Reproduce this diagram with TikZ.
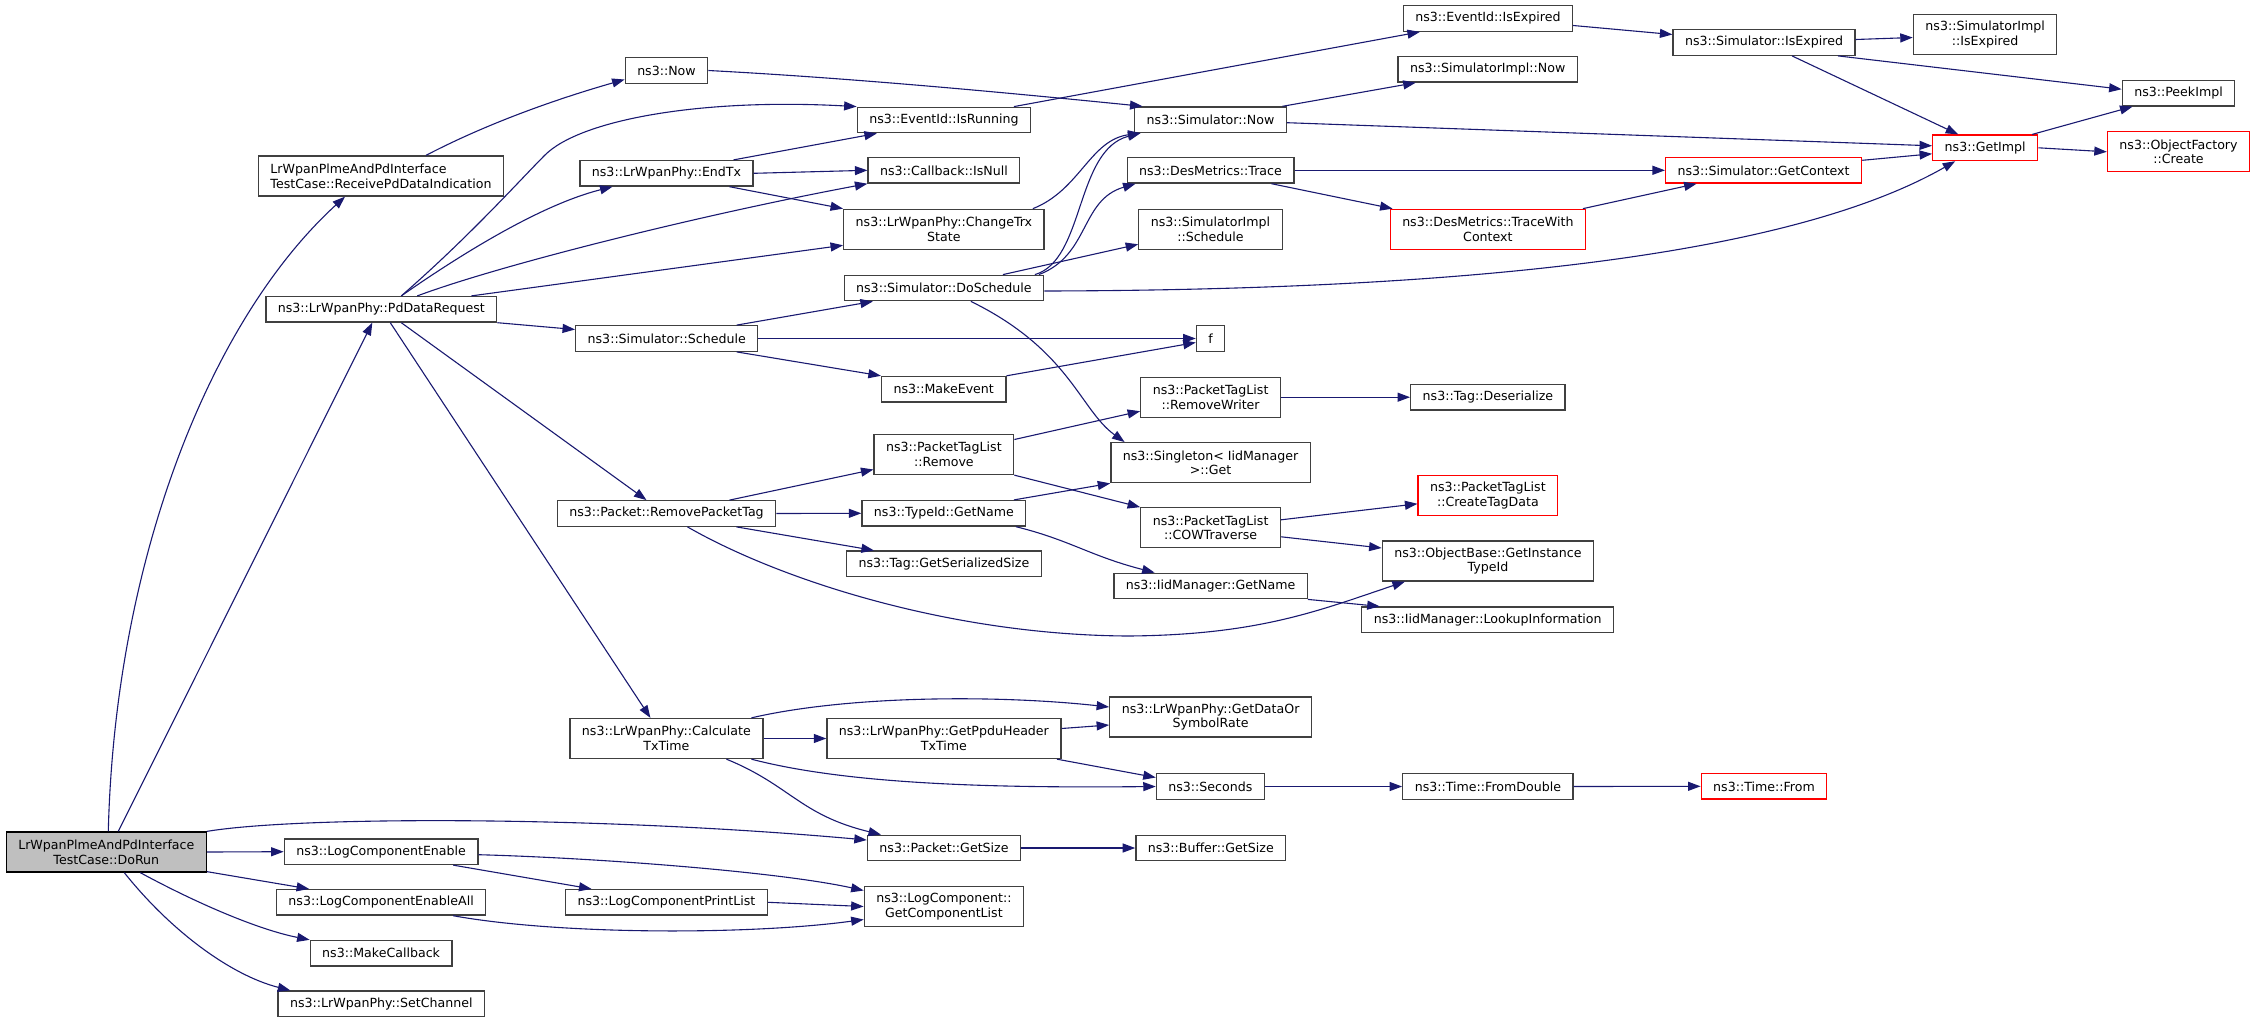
\documentclass[tikz,border=0pt]{standalone}
\usepackage{fontspec}
\setmainfont{DejaVu Sans}
\usetikzlibrary{arrows.meta}
\definecolor{edgeblue}{HTML}{191970}
\definecolor{boxgrey}{HTML}{404040}
\definecolor{rootfill}{HTML}{BFBFBF}

\begin{document}
\begin{tikzpicture}[
    x=1pt, y=-1pt,
    fn/.style={draw=boxgrey, line width=1.3pt, fill=white, font=\fontsize{12.6}{14.7}\selectfont,
               align=center, inner xsep=12pt, inner ysep=2pt, minimum height=25.5pt},
    two/.style={minimum height=40pt},
    root/.style={draw=black, fill=rootfill},
    miss/.style={draw=red},
    call/.style={draw=edgeblue, line width=1.1pt, -{Triangle[length=12.5pt,width=9pt]}}
]
\useasboundingbox (0,0) rectangle (2256,1023);

% column 1 and 2
\node[fn, two, root] (dorun) at (106.3,852) {LrWpanPlmeAndPdInterface\\TestCase::DoRun};
\node[fn, two, align=left] (recv) at (381,176) {LrWpanPlmeAndPdInterface\\TestCase::ReceivePdDataIndication};
\node[fn] (pddr) at (381.3,309.3) {ns3::LrWpanPhy::PdDataRequest};
\node[fn] (logenable) at (381.1,851.7) {ns3::LogComponentEnable};
\node[fn] (logall) at (381.1,902.3) {ns3::LogComponentEnableAll};
\node[fn] (makecb) at (381.1,953.2) {ns3::MakeCallback};
\node[fn] (setch) at (381.3,1003.8) {ns3::LrWpanPhy::SetChannel};

% column 3
\node[fn] (now) at (666.5,70.5) {ns3::Now};
\node[fn] (endtx) at (666.5,173.3) {ns3::LrWpanPhy::EndTx};
\node[fn] (sched) at (666.7,338.5) {ns3::Simulator::Schedule};
\node[fn] (rmtag) at (666.5,513.5) {ns3::Packet::RemovePacketTag};
\node[fn, two] (calctx) at (666.4,738.5) {ns3::LrWpanPhy::Calculate\\TxTime};
\node[fn] (printlist) at (666.5,902.3) {ns3::LogComponentPrintList};

% column 4
\node[fn] (isrun) at (943.9,120) {ns3::EventId::IsRunning};
\node[fn] (isnull) at (943.9,170.3) {ns3::Callback::IsNull};
\node[fn, two] (chtrx) at (943.9,229.3) {ns3::LrWpanPhy::ChangeTrx\\State};
\node[fn] (dosched) at (943.9,288) {ns3::Simulator::DoSchedule};
\node[fn] (mkevent) at (943.7,389.2) {ns3::MakeEvent};
\node[fn, two] (ptlremove) at (943.9,454.5) {ns3::PacketTagList\\::Remove};
\node[fn] (tidname) at (943.9,513.3) {ns3::TypeId::GetName};
\node[fn] (serial) at (943.9,563.8) {ns3::Tag::GetSerializedSize};
\node[fn, two] (ppdu) at (943.9,738.5) {ns3::LrWpanPhy::GetPpduHeader\\TxTime};
\node[fn] (pktsize) at (944,848) {ns3::Packet::GetSize};
\node[fn, two] (complist) at (943.9,906.5) {ns3::LogComponent::\\GetComponentList};

% column 5
\node[fn] (simnow) at (1210.5,119.7) {ns3::Simulator::Now};
\node[fn] (trace) at (1210.5,170.3) {ns3::DesMetrics::Trace};
\node[fn, two] (implsched) at (1210.5,229.3) {ns3::SimulatorImpl\\::Schedule};
\node[fn] (f) at (1210.6,338.5) {f};
\node[fn, two] (rmwriter) at (1210.6,397.2) {ns3::PacketTagList\\::RemoveWriter};
\node[fn, two] (singleton) at (1210.6,462.7) {ns3::Singleton< IidManager\\>::Get};
\node[fn, two] (cow) at (1210.6,527.8) {ns3::PacketTagList\\::COWTraverse};
\node[fn] (iidname) at (1210.6,586) {ns3::IidManager::GetName};
\node[fn, two] (datarate) at (1210.6,717) {ns3::LrWpanPhy::GetDataOr\\SymbolRate};
\node[fn] (seconds) at (1210.4,786.5) {ns3::Seconds};
\node[fn] (bufsize) at (1210.8,848) {ns3::Buffer::GetSize};

% column 6
\node[fn] (evexp) at (1487.9,18.5) {ns3::EventId::IsExpired};
\node[fn] (implnow) at (1487.7,69.3) {ns3::SimulatorImpl::Now};
\node[fn, two, miss] (twc) at (1487.9,229.3) {ns3::DesMetrics::TraceWith\\Context};
\node[fn] (deser) at (1487.9,397.2) {ns3::Tag::Deserialize};
\node[fn, two, miss] (createtag) at (1487.9,495.8) {ns3::PacketTagList\\::CreateTagData};
\node[fn, two] (instid) at (1487.9,561) {ns3::ObjectBase::GetInstance\\TypeId};
\node[fn] (lookup) at (1487.7,619.8) {ns3::IidManager::LookupInformation};
\node[fn] (fromdbl) at (1487.9,786.5) {ns3::Time::FromDouble};

% columns 7 to 9
\node[fn] (simexp) at (1764,42.5) {ns3::Simulator::IsExpired};
\node[fn, miss] (getctx) at (1763.6,170.3) {ns3::Simulator::GetContext};
\node[fn, miss] (timefrom) at (1764,786.3) {ns3::Time::From};
\node[fn, two] (implexp) at (1985.1,34.5) {ns3::SimulatorImpl\\::IsExpired};
\node[fn, miss] (getimpl) at (1985.2,147.8) {ns3::GetImpl};
\node[fn] (peek) at (2178.5,93.2) {ns3::PeekImpl};
\node[fn, two, miss] (objcreate) at (2178.5,151.8) {ns3::ObjectFactory\\::Create};

% calls from DoRun
\draw[call] ([xshift=2pt]dorun.north) .. controls (115,560) and (210,320) .. ([xshift=-36pt]recv.south);
\draw[call] ([xshift=12pt]dorun.north) -- ([xshift=-9pt]pddr.south);
\draw[call] (dorun.north east) .. controls (300,816) and (600,816) .. ([yshift=8pt]pktsize.west);
\draw[call] (dorun.east) -- (logenable.west);
\draw[call] ([yshift=1pt]dorun.south east) -- ([xshift=-72pt]logall.north);
\draw[call] ([xshift=34pt]dorun.south) .. controls (200,905) and (260,930) .. (makecb.north west);
\draw[call] ([xshift=18pt]dorun.south) .. controls (170,930) and (230,975) .. ([xshift=-91pt]setch.north);

% calls from ReceivePdDataIndication and PdDataRequest
\draw[call] ([xshift=45pt]recv.north) .. controls (490,122) and (560,98) .. ([yshift=-9pt]now.west);
\draw[call] ([xshift=20pt]pddr.north) .. controls (470,236) and (520,180) .. (545,155)
            .. controls (580,120) and (700,98) .. (isrun.north west);
\draw[call] ([xshift=20pt]pddr.north) .. controls (460,255) and (540,205) .. ([xshift=-54pt]endtx.south);
\draw[call] ([xshift=36pt]pddr.north) .. controls (500,265) and (700,215) .. (isnull.south west);
\draw[call] ([xshift=90pt]pddr.north) -- ([yshift=-16pt]chtrx.west);
\draw[call] (pddr.south east) -- ([yshift=9pt]sched.west);
\draw[call] ([xshift=20pt]pddr.south) -- ([xshift=-20pt]rmtag.north);
\draw[call] ([xshift=9pt]pddr.south) -- ([xshift=-16pt]calctx.north);

% column 3 calls
\draw[call] (now.east) .. controls (850,78) and (1000,92) .. ([xshift=-68pt]simnow.north);
\draw[call] ([xshift=67pt]endtx.north) -- ([xshift=-67pt]isrun.south);
\draw[call] (endtx.east) -- (isnull.west);
\draw[call] ([xshift=63pt]endtx.south) -- (chtrx.north west);
\draw[call] ([xshift=70pt]sched.north) -- ([xshift=-71pt]dosched.south);
\draw[call] (sched.east) -- (f.west);
\draw[call] ([xshift=70pt]sched.south) -- (mkevent.north west);
\draw[call] ([xshift=63pt]rmtag.north) -- ([yshift=-15pt]ptlremove.west);
\draw[call] (rmtag.east) -- (tidname.west);
\draw[call] ([xshift=70pt]rmtag.south) -- ([xshift=-70pt]serial.north);
\draw[call] ([xshift=21pt]rmtag.south) .. controls (780,580) and (950,635) .. (1128,636)
            .. controls (1260,635) and (1320,610) .. ([xshift=-83pt]instid.south);
\draw[call] ([xshift=85pt]calctx.north) .. controls (850,695) and (1000,695) .. ([yshift=10pt]datarate.west);
\draw[call] (calctx.east) -- (ppdu.west);
\draw[call] ([xshift=85pt]calctx.south) .. controls (850,785) and (1000,788) .. (seconds.west);
\draw[call] ([xshift=60pt]calctx.south) .. controls (790,785) and (800,815) .. ([xshift=-63pt]pktsize.north);
\draw[call] ([yshift=-3pt]logenable.east) .. controls (600,858) and (780,872) .. ([yshift=16pt]complist.west);
\draw[call] ([xshift=72pt]logenable.south) -- ([xshift=-75pt]printlist.north);
\draw[call] ([xshift=72pt]logall.south) .. controls (560,935) and (750,935) .. ([yshift=-13pt]complist.west);
\draw[call] (printlist.east) -- (complist.west);

% column 4 calls
\draw[call] ([xshift=70pt]isrun.north) -- ([xshift=-68pt]evexp.south);
\draw[call] ([xshift=89pt]chtrx.north) .. controls (1080,190) and (1090,140) .. ([xshift=-70pt]simnow.south);
\draw[call] ([xshift=91pt]dosched.north) .. controls (1085,260) and (1075,150) .. ([xshift=-70pt]simnow.south);
\draw[call] ([xshift=95pt]dosched.north) .. controls (1090,255) and (1080,200) .. ([xshift=-75pt]trace.south);
\draw[call] ([xshift=59pt]dosched.north) -- ([yshift=-15pt]implsched.west);
\draw[call] ([yshift=-3pt]dosched.east) .. controls (1500,290) and (1800,250) .. ([xshift=-30pt]getimpl.south);
\draw[call] ([xshift=27pt]dosched.south) .. controls (1070,350) and (1080,410) .. ([xshift=-86pt]singleton.north);
\draw[call] (mkevent.north east) -- ([yshift=-4pt]f.west);
\draw[call] ([yshift=15pt]ptlremove.east) -- ([yshift=-14pt]rmwriter.west);
\draw[call] (ptlremove.south east) -- (cow.north west);
\draw[call] ([xshift=70pt]tidname.north) -- (singleton.south west);
\draw[call] ([xshift=72pt]tidname.south) .. controls (1070,540) and (1090,556) .. ([xshift=-56pt]iidname.north);
\draw[call] ([yshift=10pt]ppdu.east) -- ([yshift=-8pt]datarate.west);
\draw[call] ([xshift=113pt]ppdu.south) -- ([yshift=9pt]seconds.west);
\draw[call] (pktsize.east) -- (bufsize.west);

% column 5 calls
\draw[call] ([xshift=72pt]simnow.north) -- ([xshift=-72pt]implnow.south);
\draw[call] ([yshift=-3pt]simnow.east) -- ([yshift=2pt]getimpl.west);
\draw[call] (trace.east) -- (getctx.west);
\draw[call] ([xshift=61pt]trace.south) -- ([xshift=3pt]twc.north west);
\draw[call] (rmwriter.east) -- (deser.west);
\draw[call] ([yshift=8pt]cow.east) -- ([yshift=-8pt]createtag.west);
\draw[call] ([yshift=-9pt]cow.east) -- ([yshift=13pt]instid.west);
\draw[call] (iidname.south east) -- ([xshift=-108pt]lookup.north);
\draw[call] (seconds.east) -- (fromdbl.west);

% columns 6 to 8 calls
\draw[call] ([yshift=-7pt]evexp.east) -- ([yshift=8pt]simexp.west);
\draw[call] ([xshift=95pt]twc.north) -- ([xshift=-67pt]getctx.south);
\draw[call] (fromdbl.east) -- (timefrom.west);
\draw[call] ([yshift=3pt]simexp.east) -- ([yshift=-3pt]implexp.west);
\draw[call] ([xshift=74pt]simexp.south) -- ([yshift=4pt]peek.west);
\draw[call] ([xshift=28pt]simexp.south) -- ([xshift=-27pt]getimpl.north);
\draw[call] ([yshift=10pt]getctx.east) -- ([yshift=-6pt]getimpl.west);
\draw[call] ([xshift=47pt]getimpl.north) -- ([xshift=-46pt]peek.south);
\draw[call] (getimpl.east) -- (objcreate.west);

\end{tikzpicture}
\end{document}
